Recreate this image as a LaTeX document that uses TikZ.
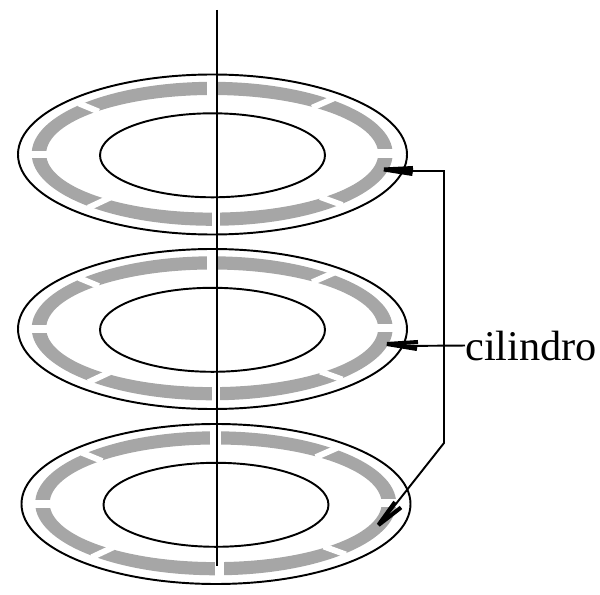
\documentclass[tikz,border=0pt]{standalone}
\usepackage{fontspec}
\setmainfont{Liberation Serif}
\definecolor{pista}{HTML}{A6A6A6}
\tikzset{
  linea/.style={line width=1.1pt},
  lengua/.style={line width=2.3pt,line join=bevel},
  anillo/.style={fill=pista,even odd rule},
  hueco/.style={draw=white,line width=3.4pt,line cap=rect},
}
\newcommand{\disco}[2]{%
  \begin{scope}[shift={(#1,#2)}]
    \fill[anillo] (-0.3,-1.2) ellipse (180.5 and 72) (-0.3,-1.2) ellipse (166 and 58.8);
    \draw[hueco,line width=5.7pt,line cap=butt] (-0.5,-77) -- (-0.5,-57);
    \draw[hueco,line width=4.6pt,line cap=butt] (3.5,57) -- (3.5,77);
    \draw[hueco,line width=4pt,line cap=butt] (-183,-0.5) -- (-163,-0.5);
    \draw[hueco,line width=4.6pt,line cap=butt] (163,-1.5) -- (183,-1.5);
    \draw[hueco] (-131,-50.5) -- (-116.5,-44.5);
    \draw[hueco] (-105.5,44) -- (-121.5,51.5);
    \draw[hueco] (118.5,-55.5) -- (102.5,-48.5);
    \draw[hueco] (110.5,43) -- (127,49);
    \draw[linea] (0,-0.5) ellipse (194.5 and 80);
    \draw[linea] (0,0.3) ellipse (112.5 and 42);
  \end{scope}
}
\begin{document}
\begin{tikzpicture}[x=0.02cm,y=-0.02cm]
  \useasboundingbox (0,0) rectangle (600,595);
  \disco{212.5}{155}
  \disco{212.5}{329.5}
  \disco{216}{504.5}
  % eje
  \coordinate (ejeA) at (217,10);
  \coordinate (ejeB) at (217,566);
  \draw[linea] (ejeA) -- (ejeB);
  % flechas
  \node[anchor=base west,inner sep=0pt,font=\fontsize{24.1}{28}\selectfont] (cil) at (465,360) {cilindro};
  \coordinate (puntaA) at (384,169.5);
  \coordinate (puntaB) at (387,344);
  \coordinate (puntaC) at (378.5,525);
  \coordinate (codoA) at (444,171);
  \coordinate (codoB) at (444,443);
  \coordinate (finA) at (395,171);
  \coordinate (finB) at (398,346);
  \coordinate (finC) at (388,514);
  \draw[linea] (finA) -- (codoA) -- (codoB) -- (finC);
  \draw[linea] (cil.west) -- (finB);
  % lenguas de las flechas
  \coordinate (barbaA) at (413,168);
  \coordinate (barbaa) at (412.5,174);
  \coordinate (barbaB) at (418,342);
  \coordinate (barbab) at (417,349);
  \coordinate (barbaC) at (395,502);
  \coordinate (barbac) at (401,507.5);
  \draw[lengua] (barbaA) -- (puntaA) -- (barbaa);
  \draw[lengua] (barbaB) -- (puntaB) -- (barbab);
  \draw[lengua] (barbaC) -- (puntaC) -- (barbac);
\end{tikzpicture}
\end{document}
